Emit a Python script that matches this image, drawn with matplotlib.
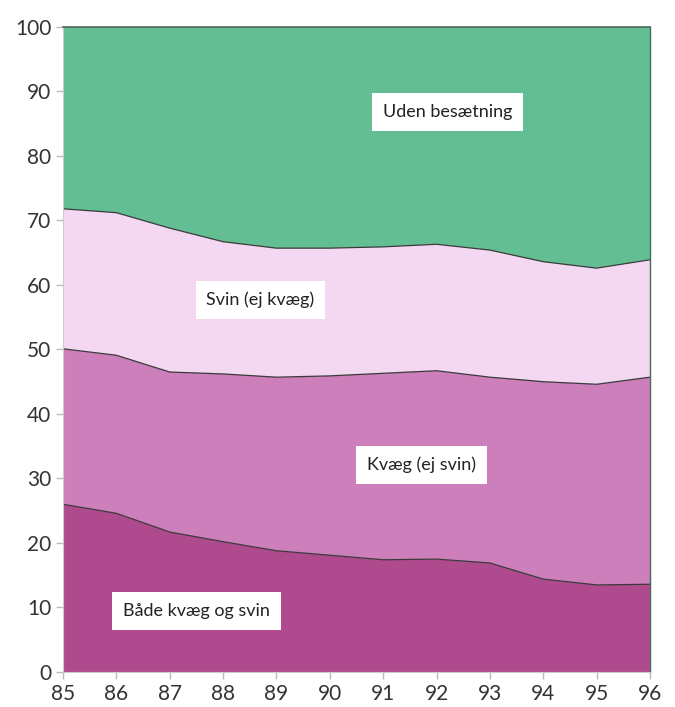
import matplotlib.pyplot as plt
import numpy as np

# --------------------------------
# DATA (shares in percent)
# --------------------------------
years = [85, 86, 87, 88, 89, 90, 91, 92, 93, 94, 95, 96]
year_labels = ["85", "86", "87", "88", "89", "90", "91", "92", "93", "94", "95", "96"]

# cumulative boundaries
top_baade = [26.0, 24.6, 21.7, 20.2, 18.8, 18.1, 17.4, 17.5, 16.9, 14.4, 13.5, 13.6]
top_kvaeg = [50.1, 49.1, 46.5, 46.2, 45.7, 45.9, 46.3, 46.7, 45.7, 45.0, 44.6, 45.7]
top_svin = [71.8, 71.2, 68.8, 66.7, 65.7, 65.7, 65.9, 66.3, 65.4, 63.6, 62.6, 63.9]

baade = np.array(top_baade)
kvaeg = np.array(top_kvaeg) - baade
svin = np.array(top_svin) - np.array(top_kvaeg)
uden = 100 - np.array(top_svin)

series_names = ["Både kvæg og svin", "Kvæg (ej svin)", "Svin (ej kvæg)", "Uden besætning"]
colors = ["#b04a8f", "#cd7fbc", "#f4d7f0", "#63bf93"]

plt.rcParams["font.family"] = ["Lato", "DejaVu Sans"]

fig = plt.figure(figsize=(6.75, 7.07), dpi=100)
ax = fig.add_axes([0.0933, 0.0495, 0.8697, 0.9125])

ax.stackplot(years, baade, kvaeg, svin, uden, colors=colors, linewidth=0)
for b in [top_baade, top_kvaeg, top_svin]:
    ax.plot(years, b, color="#3a3a3a", linewidth=0.9)

ax.set_xlim(85, 96)
ax.set_ylim(0, 100)
ax.set_xticks(years)
ax.set_xticklabels(year_labels)
ax.set_yticks(range(0, 101, 10))
ax.tick_params(axis="both", labelsize=15, length=5, width=1, direction="out",
               colors="#bbbbbb", labelcolor="#333333")

ax.spines["left"].set_color("#cccccc")
ax.spines["bottom"].set_color("#cccccc")
ax.spines["top"].set_color("#4a6a55")
ax.spines["right"].set_color("#4a6a55")
ax.spines["top"].set_linewidth(1.2)
ax.spines["right"].set_linewidth(1.0)

# labels in white boxes
label_pos = [(87.5, 9.5), (91.72, 32.1), (88.7, 57.7), (92.2, 86.8)]
for name, (x, y) in zip(series_names, label_pos):
    ax.text(x, y, name, fontsize=13, color="#222222", ha="center", va="center",
            bbox=dict(facecolor="white", edgecolor="none", boxstyle="square,pad=0.6"))

plt.savefig("out.png", dpi=100)
